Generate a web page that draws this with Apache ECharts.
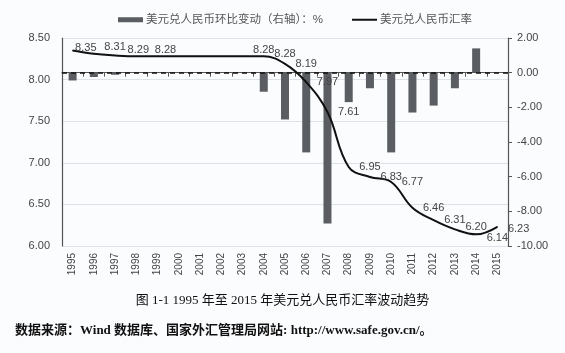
<!DOCTYPE html>
<html>
<head>
<meta charset="utf-8">
<script src="https://cdn.jsdelivr.net/npm/echarts@6/dist/echarts.min.js"></script>
<style>
  html, body { margin: 0; padding: 0; background: #fff; }
  #chart { width: 565px; height: 353px; }
</style>
</head>
<body>
<div id="chart"></div>
<script>
// 年份
var years = ['1995','1996','1997','1998','1999','2000','2001','2002','2003','2004',
             '2005','2006','2007','2008','2009','2010','2011','2012','2013','2014','2015'];
// 美元兑人民币汇率（左轴）
var rate = [8.35, 8.31, 8.29, 8.28, 8.28, 8.28, 8.28, 8.28, 8.28, 8.28,
            8.19, 7.97, 7.61, 6.95, 6.83, 6.77, 6.46, 6.31, 6.20, 6.14, 6.23];
// 环比变动 %（右轴）
var change = [-0.45, -0.25, -0.12, 0, 0, 0, 0, 0, 0, -1.1,
              -2.7, -4.6, -8.7, -1.7, -0.9, -4.6, -2.3, -1.9, -0.9, 1.4, null];
// 不显示数值标签的年份
var hiddenLabels = ['1999','2000','2001','2002'];

var barName = '美元兑人民币环比变动（右轴）：%';
var lineName = '美元兑人民币汇率';

// 个别标签的微调
var labelTweaks = {
    '1995': [-8, -3], '1996': [0, -7], '1997': [2, -6], '1998': [8, -6],
    '2003': [0, -6], '2004': [0, -2], '2013': [0, -2], '2014': [0, 4], '2015': [0, 2]
};

var lineData = rate.map(function (v, i) {
    var y = years[i];
    var item = { value: v };
    if (hiddenLabels.indexOf(y) >= 0) {
        item.label = { show: false };
    } else if (labelTweaks[y]) {
        item.label = { offset: labelTweaks[y] };
    }
    return item;
});

var myChart = echarts.init(document.getElementById('chart'));
var option = {
    backgroundColor: '#fbfcfe',
    textStyle: { fontFamily: 'Liberation Sans, Noto Sans CJK SC, sans-serif' },
    title: [
        {
            text: '图 1-1 1995 年至 2015 年美元兑人民币汇率波动趋势',
            left: 'center', top: 289,
            textStyle: { fontSize: 13, fontWeight: 'normal', color: '#111',
                         fontFamily: 'Liberation Serif, Noto Sans CJK SC, serif' }
        },
        {
            text: '数据来源：Wind 数据库、国家外汇管理局网站: http://www.safe.gov.cn/。',
            left: 10, top: 319,
            textStyle: { fontSize: 13, fontWeight: 'bold', color: '#111',
                         fontFamily: 'Liberation Serif, Noto Sans CJK SC, serif' }
        }
    ],
    legend: {
        left: 113, top: 9,
        itemWidth: 25, itemHeight: 5, itemGap: 28,
        textStyle: { fontSize: 11.5, color: '#555', padding: [0, 0, 0, -2] },
        data: [
            { name: barName, icon: 'rect' },
            { name: lineName, itemStyle: { opacity: 0 } }
        ]
    },
    grid: { left: 62, right: 57, top: 38, bottom: 107 },
    xAxis: {
        type: 'category',
        data: years,
        axisLine: { lineStyle: { color: '#555', width: 1.2 } },
        axisTick: { show: true, length: 4, lineStyle: { color: '#555' } },
        axisLabel: { rotate: 90, margin: 7, fontSize: 10, color: '#444' }
    },
    yAxis: [
        {
            type: 'value', min: 6, max: 8.5, interval: 0.5,
            axisLine: { show: true, lineStyle: { color: '#555', width: 1.2 } },
            axisTick: { show: false },
            splitLine: { lineStyle: { color: '#dde2ea' } },
            axisLabel: { margin: 12, fontSize: 11, color: '#444',
                         formatter: function (v) { return v.toFixed(2); } }
        },
        {
            type: 'value', min: -10, max: 2, interval: 2,
            axisLine: { show: true, lineStyle: { color: '#555', width: 1.2 } },
            axisTick: { show: true, length: 4, lineStyle: { color: '#555' } },
            splitLine: { show: false },
            axisLabel: { margin: 9, fontSize: 11, color: '#444',
                         formatter: function (v) { return v.toFixed(2); } }
        }
    ],
    series: [
        {
            name: barName,
            type: 'bar',
            yAxisIndex: 1,
            barWidth: 8,
            itemStyle: { color: '#5a5d62' },
            data: change,
            markLine: {
                silent: true,
                symbol: 'none',
                label: { show: false },
                lineStyle: { color: '#111', type: [5, 4], width: 1.5 },
                data: [{ yAxis: 0 }]
            }
        },
        {
            name: lineName,
            type: 'line',
            yAxisIndex: 0,
            z: 5,
            smooth: 0.4,
            symbol: 'circle',
            symbolSize: 1,
            itemStyle: { color: '#111' },
            lineStyle: { color: '#111', width: 2 },
            label: { show: true, position: 'right', distance: 10, fontSize: 11, color: '#444',
                     formatter: function (p) { return p.value.toFixed(2); } },
            data: lineData
        }
    ]
};
myChart.setOption(option);
</script>
</body>
</html>
